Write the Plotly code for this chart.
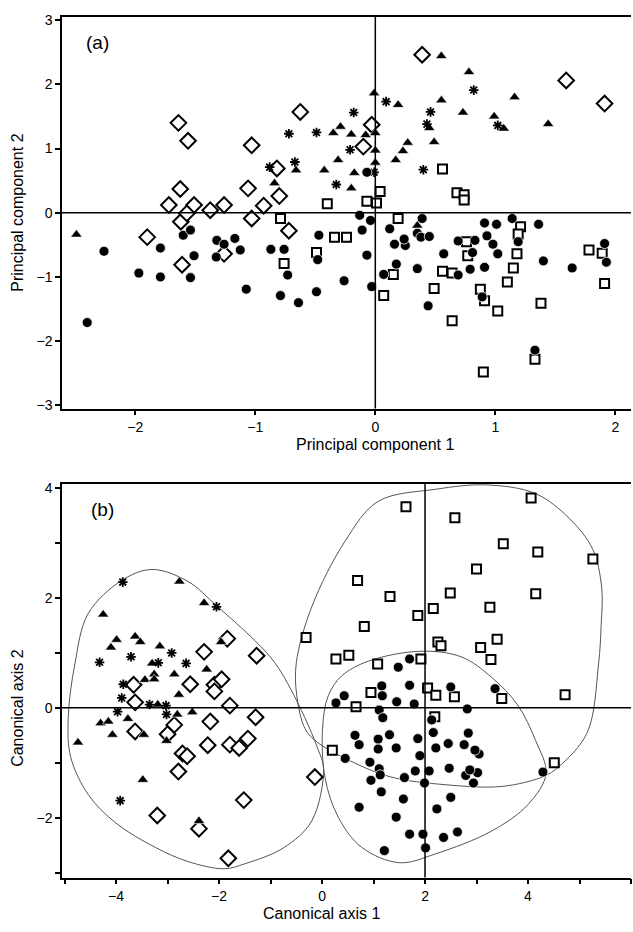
import plotly.graph_objects as go

# ---------------- Panel (a): principal components ----------------
pca_diamond_x = [-1.64, -1.56, -1.03, -1.625, -1.06, -1.72, -1.51, -1.375, -1.26, -1.62, -1.57, -1.03, -1.90,
                 -1.61, -1.26, 0.39, -0.625, -0.03, -0.10, -0.82, -0.80, -0.93, -0.72, 1.59, 1.91]
pca_diamond_y = [1.40, 1.12, 1.05, 0.37, 0.38, 0.12, 0.12, 0.04, 0.12, -0.14, -0.01, -0.09, -0.38,
                 -0.81, -0.64, 2.46, 1.57, 1.37, 1.03, 0.69, 0.26, 0.11, -0.28, 2.06, 1.70]

pca_triangle_x = [-2.49, -0.01, 0.19, 0.55, 0.55, -0.29, -0.35, -0.20, -0.08, 0.0, 0.0, 0.27, 0.23, 0.17, 0.49,
                  -0.31, 0.0, -0.425, -0.175, -0.66, -0.84, -0.20, 0.45, 0.78, 1.16, 0.73, 0.99, 1.44, 1.07, 0.35]
pca_triangle_y = [-0.34, 1.86, 1.68, 2.44, 1.75, 1.34, 1.24, 1.22, 1.21, 1.24, 0.97, 1.09, 0.96, 0.82, 1.10,
                  0.82, 0.78, 0.66, 0.62, 0.66, 0.46, 0.38, 1.32, 2.19, 1.80, 1.56, 1.50, 1.38, 1.31, -0.20]

pca_star_x = [0.09, -0.18, 0.46, -0.72, -0.49, 0.43, -0.21, -0.67, -0.88, -0.01, 0.40, -0.325, 0.82, 1.02]
pca_star_y = [1.73, 1.56, 1.57, 1.23, 1.25, 1.38, 0.98, 0.79, 0.71, 0.63, 0.67, 0.44, 1.91, 1.36]

pca_square_x = [0.56, 0.04, -0.07, 0.01, -0.40, 0.68, 0.74, 0.74, -0.79, -0.34, -0.24, -0.49, -0.76, 0.19,
                0.15, 0.07, 0.56, 0.49, 1.21, 1.19, 1.18, 1.15, 1.10, 0.76, 0.77, 0.64, 0.875, 0.91, 1.02,
                1.38, 0.64, 1.78, 1.89, 1.91, 1.33, 0.90]
pca_square_y = [0.68, 0.33, 0.18, 0.15, 0.14, 0.31, 0.28, 0.20, -0.09, -0.38, -0.38, -0.62, -0.79, -0.09,
                -0.96, -1.29, -0.91, -1.18, -0.22, -0.33, -0.64, -0.86, -1.08, -0.45, -0.67, -0.94, -1.19, -1.37, -1.53,
                -1.41, -1.68, -0.58, -0.63, -1.10, -2.28, -2.48]

pca_circle_x = [-2.26, -1.97, -1.79, -1.79, -2.40, -1.60, -1.54, -1.51, -1.54, -1.32, -1.325, -1.17, -1.125,
                -1.075, -1.26, -0.07, -0.13, -0.04, -0.11, -0.47, -0.87, -0.76, -0.48, -0.07, -0.73, -0.79,
                -0.64, -0.49, -0.26, -0.03, 0.12, 0.16, 0.25, 0.24, 0.39, 0.35, 0.38, 0.45, 0.57, 0.175, 0.07,
                0.35, 0.44, 0.91, 1.01, 1.14, 1.36, 0.69, 0.83, 0.93, 0.98, 0.81, 1.02, 1.19, 1.40, 1.64, 1.91,
                1.925, 0.69, 0.79, 0.91, 0.89, 1.33]
pca_circle_y = [-0.60, -0.94, -0.55, -1.00, -1.71, -0.35, -0.27, -0.67, -1.01, -0.43, -0.69, -0.40, -0.58,
                -1.19, -0.49, 0.63, -0.04, -0.12, -0.27, -0.35, -0.57, -0.57, -0.73, -0.66, -0.97, -1.29,
                -1.40, -1.23, -1.06, -1.15, -0.25, -0.49, -0.51, -0.41, -0.09, -0.32, -0.38, -0.37, -0.64, -0.80, -0.96,
                -0.87, -1.45, -0.16, -0.18, -0.09, -0.18, -0.44, -0.43, -0.36, -0.49, -0.62, -0.64, -0.45, -0.75, -0.86, -0.48,
                -0.77, -0.97, -0.88, -0.85, -1.31, -2.14]

# ---------------- Panel (b): canonical axes ----------------
can_star_x = [-3.87, -2.05, -4.32, -3.71, -2.92, -2.64, -3.18, -3.86, -3.89, -3.97, -3.35, -3.03, -3.02, -3.92]
can_star_y = [2.29, 1.84, 0.83, 0.93, 1.00, 0.81, 0.82, 0.43, 0.18, -0.07, 0.06, 0.04, -0.12, -1.69]

can_triangle_x = [-2.77, -2.29, -4.25, -3.99, -4.10, -3.63, -3.53, -3.15, -1.96, -3.30, -3.44, -3.26, -3.26,
                  -2.87, -2.24, -2.78, -3.19, -4.30, -4.15, -3.77, -4.07, -3.46, -3.02, -2.81, -2.52, -4.74,
                  -3.48, -2.39]
can_triangle_y = [2.30, 1.91, 1.70, 1.24, 1.10, 1.30, 1.20, 1.12, 1.20, 0.81, 0.51, 0.61, 0.52,
                  0.61, 0.70, 0.24, 0.06, -0.28, -0.25, -0.20, -0.49, -0.49, -0.60, -0.12, -0.08, -0.63,
                  -1.31, -2.06]

can_diamond_x = [-1.84, -2.29, -1.27, -3.66, -3.63, -2.56, -2.09, -1.95, -2.09, -1.79, -1.29, -2.17, -3.63,
                 -2.87, -3.00, -2.22, -1.79, -1.61, -1.44, -2.71, -2.62, -2.79, -1.52, -3.20, -2.39, -1.82, -0.14]
can_diamond_y = [1.26, 1.02, 0.95, 0.42, 0.10, 0.43, 0.42, 0.52, 0.30, 0.04, -0.17, -0.25, -0.43,
                 -0.31, -0.48, -0.68, -0.67, -0.73, -0.56, -0.83, -0.88, -1.16, -1.68, -1.96, -2.20, -2.74, -1.26]

can_square_x = [0.20, 0.66, 0.95, 1.08, 2.05, 2.21, 2.19, 2.57, 3.49, 4.72, 4.51, 1.63, 0.69, 1.32, 1.86,
                2.16, 0.82, -0.31, 0.27, 0.52, 1.92, 2.25, 2.31, 4.06, 2.58, 3.52, 4.19, 5.26, 3.00, 2.49,
                4.15, 3.26, 3.40, 3.08, 3.28]
can_square_y = [-0.77, 0.02, 0.28, 0.80, 0.36, 0.23, -0.16, 0.20, 0.17, 0.24, -1.00, 3.66, 2.32, 2.03, 1.68,
                1.81, 1.48, 1.28, 0.89, 0.96, 0.89, 1.20, 1.13, 3.82, 3.46, 2.99, 2.84, 2.71, 2.53, 2.09,
                2.08, 1.83, 1.25, 1.10, 0.88]

can_circle_x = [1.48, 1.70, 1.16, 1.17, 0.43, 0.27, 1.45, 1.79, 1.11, 1.18, 2.13, 2.16, 0.64, 0.72, 1.09,
                1.31, 1.86, 1.44, 1.09, 2.21, 1.90, 0.45, 0.93, 1.11, 1.13, 0.95, 1.60, 1.81, 2.08, 1.99,
                1.15, 1.58, 0.72, 2.23, 1.44, 1.70, 1.96, 2.36, 2.01, 1.21, 2.50, 3.36, 2.82, 2.84, 2.45,
                2.76, 3.05, 2.97, 2.47, 2.79, 3.02, 2.87, 2.94, 4.29, 2.50, 2.63, 1.70]
can_circle_y = [0.74, 0.41, 0.40, 0.22, 0.22, 0.09, 0.11, 0.07, -0.04, -0.18, -0.22, -0.45, -0.50, -0.67, -0.57,
                -0.49, -0.56, -0.73, -0.75, -0.73, -0.87, -0.92, -0.99, -1.11, -1.22, -1.32, -1.27, -1.15, -1.15, -1.37,
                -1.53, -1.66, -1.81, -1.84, -1.99, -2.30, -2.30, -2.36, -2.55, -2.60, 0.38, 0.35, -0.02, -0.46, -0.65,
                -0.67, -0.84, -0.77, -1.10, -1.23, -1.18, -1.13, -1.37, -1.17, -1.63, -2.26, 0.89]

# Outline curves around the groups in panel (b)
hull_left_x = [-3.3, -2.6, -2.05, -1.3, -0.9, -0.45, -0.08, 0.03, -0.2, -0.75, -1.5, -1.9, -2.6, -3.24,
               -4.0, -4.54, -4.88, -4.93, -4.80, -4.54, -3.89]
hull_left_y = [2.52, 2.30, 1.86, 1.22, 0.80, 0.05, -0.75, -1.10, -2.06, -2.55, -2.84, -2.93, -2.80, -2.54,
               -2.10, -1.58, -0.90, -0.20, 0.80, 1.72, 2.32]

hull_upper_x = [2.2, 3.2, 4.15, 4.8, 5.25, 5.43, 5.42, 5.37, 5.15, 4.6, 4.3, 3.5, 2.4, 1.3, 0.45, -0.1,
                -0.33, -0.49, -0.50, -0.2, 0.45, 1.09]
hull_upper_y = [3.98, 4.06, 3.90, 3.45, 2.90, 2.20, 1.50, 0.80, -0.45, -1.07, -1.25, -1.43, -1.40, -1.25, -0.92,
                -0.62, -0.38, 0.22, 0.82, 1.84, 3.04, 3.76]

hull_lower_x = [1.9, 2.7, 3.3, 3.8, 4.15, 4.35, 4.0, 3.3, 2.2, 1.5, 0.77, 0.32, 0.06, 0.01, 0.12, 0.38, 0.9]
hull_lower_y = [1.03, 0.93, 0.55, 0.05, -0.60, -1.20, -1.76, -2.24, -2.66, -2.82, -2.54, -2.00, -1.28, -0.38,
                0.22, 0.58, 0.85]

# Axis ticks
pca_x_ticks = [-2, -1, 0, 1, 2]
pca_y_ticks = [-3, -2, -1, 0, 1, 2, 3]
can_x_ticks = [-5, -4, -3, -2, -1, 0, 1, 2, 3, 4, 5, 6]
can_y_ticks = [-3, -2, -1, 0, 1, 2, 3, 4]

FONT = "Arial, Liberation Sans, sans-serif"
W, H = 633, 932

fig = go.Figure()


def add_groups(fig, xa, ya, circles, squares, diamonds, triangles, stars):
    fig.add_trace(go.Scatter(x=diamonds[0], y=diamonds[1], mode="markers", xaxis=xa, yaxis=ya,
                             marker=dict(symbol="diamond", size=12, color="white",
                                         line=dict(color="black", width=2))))
    fig.add_trace(go.Scatter(x=squares[0], y=squares[1], mode="markers", xaxis=xa, yaxis=ya,
                             marker=dict(symbol="square", size=9, color="white",
                                         line=dict(color="black", width=2))))
    fig.add_trace(go.Scatter(x=triangles[0], y=triangles[1], mode="markers", xaxis=xa, yaxis=ya,
                             marker=dict(symbol="triangle-up", size=10, color="black",
                                         line=dict(color="white", width=0.6))))
    fig.add_trace(go.Scatter(x=stars[0], y=stars[1], mode="markers", xaxis=xa, yaxis=ya,
                             marker=dict(symbol="asterisk-open", size=8, color="black",
                                         line=dict(color="black", width=1.8))))
    fig.add_trace(go.Scatter(x=circles[0], y=circles[1], mode="markers", xaxis=xa, yaxis=ya,
                             marker=dict(symbol="circle", size=10, color="black",
                                         line=dict(color="white", width=0.8))))


# Group outlines (drawn first so markers sit on top)
for hx, hy in [(hull_left_x, hull_left_y), (hull_upper_x, hull_upper_y), (hull_lower_x, hull_lower_y)]:
    fig.add_trace(go.Scatter(x=hx + hx[:1], y=hy + hy[:1], mode="lines", xaxis="x2", yaxis="y2",
                             line=dict(color="#555555", width=1, shape="spline", smoothing=1.0)))

add_groups(fig, "x", "y",
           (pca_circle_x, pca_circle_y), (pca_square_x, pca_square_y),
           (pca_diamond_x, pca_diamond_y), (pca_triangle_x, pca_triangle_y),
           (pca_star_x, pca_star_y))
add_groups(fig, "x2", "y2",
           (can_circle_x, can_circle_y), (can_square_x, can_square_y),
           (can_diamond_x, can_diamond_y), (can_triangle_x, can_triangle_y),
           (can_star_x, can_star_y))

axis_common = dict(showgrid=False, zeroline=False, showline=True, linecolor="black", linewidth=1.5,
                   ticks="outside", ticklen=5, tickwidth=1.5, tickcolor="black",
                   tickfont=dict(family=FONT, size=14, color="black"))

# pixel layout of the two plotting areas
left_px, right_px = 62, 631
top_a, bot_a = 12, 408
top_b, bot_b = 484, 882

fig.update_layout(
    width=W, height=H, margin=dict(l=0, r=0, t=0, b=0),
    paper_bgcolor="white", plot_bgcolor="white", showlegend=False,
    xaxis=dict(axis_common, domain=[left_px / W, right_px / W], range=[-2.61, 2.13],
               tickvals=pca_x_ticks, anchor="y", mirror=True),
    yaxis=dict(axis_common, domain=[1 - bot_a / H, 1 - top_a / H], range=[-3.05, 3.05],
               tickvals=pca_y_ticks, anchor="x"),
    xaxis2=dict(axis_common, domain=[left_px / W, right_px / W], range=[-5.05, 6.0],
                tickvals=can_x_ticks,
                ticktext=[("\u2212%d" % -v if v < 0 else str(v)) if v % 2 == 0 else "" for v in can_x_ticks],
                anchor="y2", mirror=True),
    yaxis2=dict(axis_common, domain=[1 - bot_b / H, 1 - top_b / H], range=[-3.09, 4.08],
                tickvals=can_y_ticks,
                ticktext=[("\u2212%d" % -v if v < 0 else str(v)) if v % 2 == 0 else "" for v in can_y_ticks],
                anchor="x2"),
)

# Reference lines through the origin (panel a) and through (2, 0) in panel b
ref_line = dict(color="black", width=1.5)
fig.add_shape(type="line", xref="x", yref="y domain", x0=0, x1=0, y0=0, y1=1, line=ref_line)
fig.add_shape(type="line", xref="x domain", yref="y", x0=0, x1=1, y0=0, y1=0, line=ref_line)
fig.add_shape(type="line", xref="x2", yref="y2 domain", x0=2, x1=2, y0=0, y1=1, line=ref_line)
fig.add_shape(type="line", xref="x2 domain", yref="y2", x0=0, x1=1, y0=0, y1=0, line=ref_line)

title_font = dict(family=FONT, size=16, color="black")
fig.add_annotation(text="Principal component 1", xref="x", yref="paper", x=0, y=1 - 444 / H,
                   showarrow=False, font=title_font, xanchor="center", yanchor="middle")
fig.add_annotation(text="Principal component 2", xref="paper", yref="y", x=18 / W, y=0,
                   showarrow=False, font=title_font, textangle=-90, xanchor="center", yanchor="middle")
fig.add_annotation(text="Canonical axis 1", xref="x2", yref="paper", x=0, y=1 - 918 / H,
                   showarrow=False, font=title_font, xanchor="center", yanchor="middle")
fig.add_annotation(text="Canonical axis 2", xref="paper", yref="y2", x=18 / W, y=0,
                   showarrow=False, font=title_font, textangle=-90, xanchor="center", yanchor="middle")

panel_font = dict(family=FONT, size=19, color="black")
fig.add_annotation(text="(a)", xref="paper", yref="paper", x=97 / W, y=1 - 38 / H,
                   showarrow=False, font=panel_font, xanchor="center", yanchor="middle")
fig.add_annotation(text="(b)", xref="paper", yref="paper", x=102 / W, y=1 - 510 / H,
                   showarrow=False, font=panel_font, xanchor="center", yanchor="middle")

fig.write_html("out.html")
